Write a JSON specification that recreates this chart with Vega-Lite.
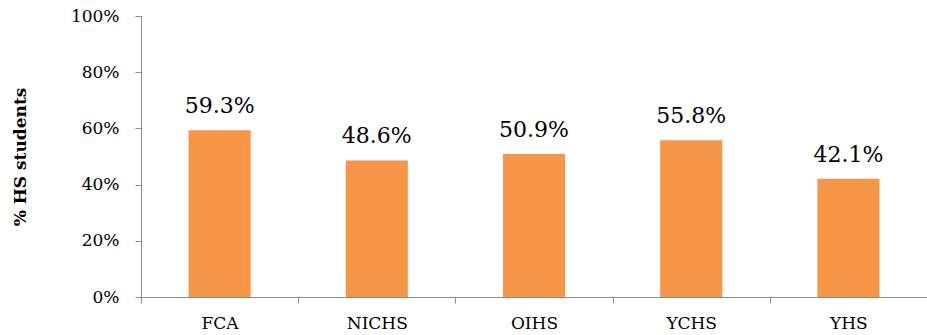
{
  "$schema": "https://vega.github.io/schema/vega-lite/v6.json",
  "width": 786,
  "height": 281,
  "autosize": {"type": "none"},
  "padding": {"left": 141, "top": 16, "right": 0, "bottom": 38},
  "background": "white",
  "config": {
    "view": {"stroke": null},
    "font": "DejaVu Serif",
    "axis": {"domainColor": "#8c8c8c", "tickColor": "#8c8c8c", "grid": false, "labelColor": "#000", "labelFont": "DejaVu Serif"}
  },
  "data": {
    "values": [
      {"school": "FCA", "pct": 0.593, "label": "59.3%"},
      {"school": "NICHS", "pct": 0.486, "label": "48.6%"},
      {"school": "OIHS", "pct": 0.509, "label": "50.9%"},
      {"school": "YCHS", "pct": 0.558, "label": "55.8%"},
      {"school": "YHS", "pct": 0.421, "label": "42.1%"}
    ]
  },
  "encoding": {
    "x": {
      "field": "school", "type": "nominal", "sort": null,
      "scale": {"paddingInner": 0, "paddingOuter": 0},
      "axis": {"title": null, "labelAngle": 0, "tickBand": "extent", "tickSize": 6, "labelFontSize": 17, "labelPadding": 12, "labelOverlap": false}
    }
  },
  "layer": [
    {
      "mark": {"type": "bar", "color": "#F79646", "width": {"band": 0.395}},
      "encoding": {
        "y": {
          "field": "pct", "type": "quantitative",
          "scale": {"domain": [0, 1]},
          "axis": {"format": ".0%", "values": [0, 0.2, 0.4, 0.6, 0.8, 1], "labelOverlap": false, "labelBound": false, "tickSize": 6, "labelFontSize": 17, "labelPadding": 16,
            "title": "% HS students", "titleFontSize": 17, "titleFontWeight": "bold", "titleColor": "#000",
            "titleX": -121, "titleY": 140.5, "titleAngle": -90, "titleAlign": "center", "titleBaseline": "middle"}
        }
      }
    },
    {
      "mark": {"type": "text", "fontSize": 22, "baseline": "alphabetic", "dy": -17, "color": "#000"},
      "encoding": {
        "y": {"field": "pct", "type": "quantitative"},
        "text": {"field": "label"}
      }
    }
  ]
}
